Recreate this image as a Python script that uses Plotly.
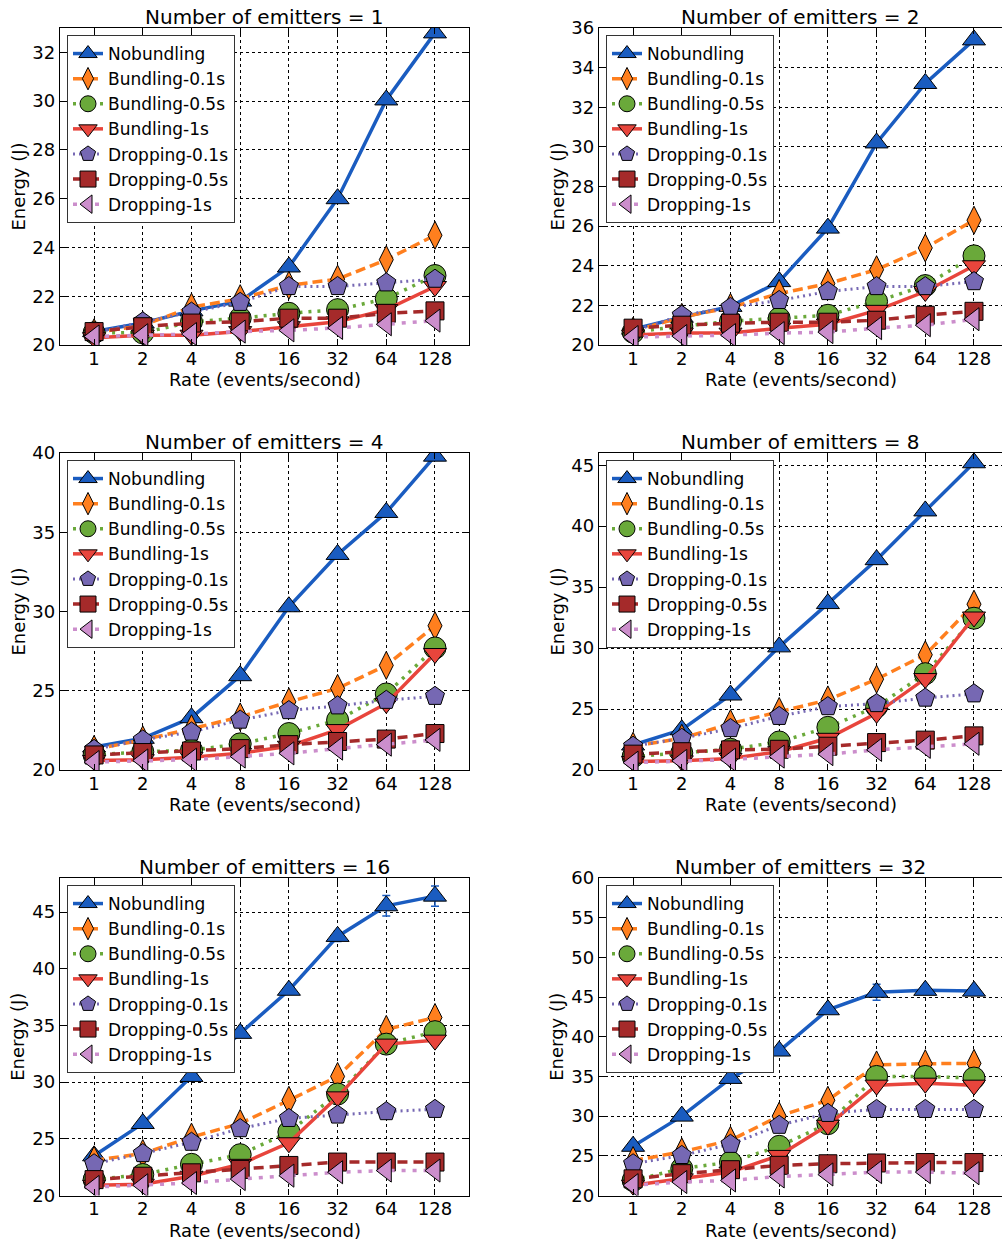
import plotly.graph_objects as go

RATES = ["1", "2", "4", "8", "16", "32", "64", "128"]
EMITTERS = [1, 2, 4, 8, 16, 32]
SERIES_NAMES = ["Nobundling", "Bundling-0.1s", "Bundling-0.5s", "Bundling-1s",
                "Dropping-0.1s", "Dropping-0.5s", "Dropping-1s"]

# values per emitter count (rows) x rate (columns)
NOBUNDLING = [
    [20.55, 20.9, 21.4, 21.8, 23.2, 26.0, 30.05, 32.8],
    [20.8, 21.4, 21.95, 23.2, 25.9, 30.2, 33.2, 35.4],
    [21.45, 22.0, 23.3, 25.95, 30.3, 33.6, 36.25, 39.8],
    [22.05, 23.3, 26.15, 30.1, 33.65, 37.25, 41.25, 45.2],
    [23.5, 26.35, 30.5, 34.3, 38.1, 42.85, 45.55, 46.4],
    [26.2, 30.0, 34.75, 38.2, 43.4, 45.6, 45.85, 45.75],
]
NOBUNDLING_ERR = [
    [None] * 8,
    [None] * 8,
    [None] * 8,
    [None] * 8,
    [None, None, None, None, 0.2, 0.45, 0.9, 0.9],
    [None, None, None, None, 0.3, 1.0, 0.5, 0.5],
]
BUNDLING_01 = [
    [20.5, 20.8, 21.55, 21.9, 22.45, 22.7, 23.5, 24.5],
    [20.7, 21.4, 21.9, 22.6, 23.1, 23.8, 24.9, 26.3],
    [21.3, 21.9, 22.6, 23.35, 24.3, 25.15, 26.6, 29.1],
    [21.95, 22.6, 23.8, 24.8, 25.75, 27.45, 29.45, 33.6],
    [23.1, 23.7, 25.15, 26.35, 28.4, 30.5, 34.65, 35.7],
    [24.4, 25.5, 26.95, 30.0, 32.0, 36.45, 36.6, 36.65],
]
BUNDLING_05 = [
    [20.5, 20.5, 20.95, 21.1, 21.3, 21.45, 21.9, 22.85],
    [20.65, 20.95, 21.2, 21.35, 21.5, 22.2, 23.0, 24.5],
    [20.95, 21.15, 21.25, 21.65, 22.3, 23.15, 24.8, 27.7],
    [21.1, 21.4, 21.7, 22.3, 23.5, 25.2, 27.9, 32.45],
    [21.4, 21.85, 22.75, 23.6, 25.6, 28.95, 33.35, 34.45],
    [21.9, 23.4, 24.2, 26.2, 29.05, 35.0, 35.0, 34.8],
]
BUNDLING_1 = [
    [20.3, 20.4, 20.4, 20.55, 20.75, 20.95, 21.45, 22.4],
    [20.5, 20.6, 20.6, 20.85, 21.05, 21.75, 22.7, 24.0],
    [20.6, 20.65, 20.8, 21.05, 21.5, 22.55, 24.2, 27.35],
    [20.7, 20.75, 20.95, 21.5, 22.6, 24.65, 27.5, 32.55],
    [20.9, 21.0, 21.7, 22.75, 24.65, 28.7, 33.35, 33.7],
    [21.3, 22.1, 22.95, 25.05, 28.85, 33.9, 34.15, 33.9],
]
DROPPING_01 = [
    [20.5, 20.95, 21.35, 21.75, 22.4, 22.4, 22.55, 22.7],
    [20.7, 21.5, 21.9, 22.25, 22.7, 22.95, 22.95, 23.2],
    [21.3, 21.9, 22.4, 23.15, 23.75, 24.05, 24.4, 24.65],
    [21.95, 22.6, 23.4, 24.4, 25.2, 25.45, 25.9, 26.25],
    [22.8, 23.7, 24.7, 25.9, 26.8, 27.1, 27.4, 27.6],
    [24.0, 25.05, 26.45, 28.85, 30.35, 30.85, 30.85, 30.85],
]
DROPPING_05 = [
    [20.55, 20.75, 20.9, 20.95, 21.1, 21.1, 21.3, 21.4],
    [20.85, 21.0, 21.1, 21.15, 21.15, 21.25, 21.5, 21.7],
    [20.95, 21.1, 21.2, 21.35, 21.6, 21.8, 21.95, 22.3],
    [21.3, 21.5, 21.65, 21.7, 21.95, 22.25, 22.45, 22.8],
    [21.4, 21.7, 22.0, 22.3, 22.65, 22.95, 22.95, 22.95],
    [22.1, 22.75, 23.25, 23.8, 24.0, 24.1, 24.15, 24.15],
]
DROPPING_1 = [
    [20.35, 20.4, 20.45, 20.55, 20.6, 20.7, 20.85, 21.0],
    [20.4, 20.45, 20.5, 20.6, 20.65, 20.85, 21.0, 21.3],
    [20.5, 20.6, 20.65, 20.85, 21.05, 21.35, 21.6, 21.9],
    [20.6, 20.75, 20.85, 21.1, 21.3, 21.65, 21.9, 22.15],
    [20.75, 20.9, 21.1, 21.45, 21.75, 22.05, 22.2, 22.2],
    [21.3, 21.7, 21.9, 22.4, 22.65, 22.95, 22.95, 22.8],
]
Y_MAX = [33, 36, 40, 46, 48, 60]
Y_DTICK = [2, 2, 5, 5, 5, 5]

ALL = [NOBUNDLING, BUNDLING_01, BUNDLING_05, BUNDLING_1, DROPPING_01, DROPPING_05, DROPPING_1]
COLORS = ["#1a5cc0", "#ff7f1e", "#6aa93a", "#e8453c", "#7668b3", "#a52a2a", "#cc8ecc"]
DASHES = ["solid", "10px,5px", "3px,6px", "solid", "2px,4px", "10px,6px", "4px,7px"]
SYMBOLS = ["triangle-up", "diamond-tall", "circle", "triangle-down", "pentagon", "square", "triangle-left"]
SIZES = [20, 20, 22, 20, 20, 18, 20]
LWIDTH = [3.5, 3.5, 3.5, 3.5, 3, 3.5, 3.5]

W, H = 1002, 1242
COLS = [(60, 469), (599, 1002)]
ROWS = [(28, 345), (453, 770), (878, 1195.5)]
UNIT = 48.7  # px per category

FONT = "DejaVu Sans"
fig = go.Figure()
annotations = []
layout = {}

for k, em in enumerate(EMITTERS):
    r, c = divmod(k, 2)
    x0, x1 = COLS[c]
    y0, y1 = ROWS[r]
    idx = k + 1
    xa = "x" if idx == 1 else f"x{idx}"
    ya = "y" if idx == 1 else f"y{idx}"
    lg = "legend" if idx == 1 else f"legend{idx}"
    xr = [-0.7, -0.7 + (x1 - x0) / UNIT]
    layout["xaxis" if idx == 1 else f"xaxis{idx}"] = dict(
        domain=[x0 / W, x1 / W], anchor=ya, type="category", range=xr,
        categoryorder="array", categoryarray=RATES,
        showgrid=True, gridcolor="black", griddash="dot", gridwidth=1,
        showline=True, linecolor="black", linewidth=1.3, mirror="ticks",
        ticks="inside", ticklen=6, tickcolor="black", ticklabelstandoff=-3,
        tickfont=dict(family=FONT, size=18, color="black"), zeroline=False,
        automargin=False,
    )
    layout["yaxis" if idx == 1 else f"yaxis{idx}"] = dict(
        domain=[1 - y1 / H, 1 - y0 / H], anchor=xa, range=[20, Y_MAX[k]],
        dtick=Y_DTICK[k], tick0=20,
        showgrid=True, gridcolor="black", griddash="dot", gridwidth=1,
        showline=True, linecolor="black", linewidth=1.3,
        mirror="ticks" if c == 0 else False,
        ticks="inside", ticklen=6, tickcolor="black",
        tickfont=dict(family=FONT, size=18, color="black"), zeroline=False,
        automargin=False,
    )
    layout[lg] = dict(
        x=(x0 + 7) / W, y=1 - (y0 + 7) / H, xanchor="left", yanchor="top",
        bgcolor="white", bordercolor="#333", borderwidth=1,
        font=dict(family=FONT, size=17, color="black"),
        tracegroupgap=0, itemsizing="trace",
    )
    for s, name in enumerate(SERIES_NAMES):
        tr = dict(
            x=RATES, y=ALL[s][k], name=name, xaxis=xa, yaxis=ya, legend=lg,
            mode="lines+markers",
            line=dict(color=COLORS[s], width=LWIDTH[s], dash=DASHES[s]),
            marker=dict(symbol=SYMBOLS[s], size=SIZES[s], color=COLORS[s],
                        line=dict(color="black", width=1)),
        )
        if s == 0:
            tr["error_y"] = dict(type="data", array=NOBUNDLING_ERR[k], color=COLORS[0],
                                 thickness=1.5, width=4)
        fig.add_trace(go.Scatter(**tr))
    xc = (x0 + min(x1, x0 + 409)) / 2
    annotations.append(dict(
        text=f"Number of emitters = {em}", x=xc / W, y=1 - (y0 + 3) / H,
        xref="paper", yref="paper", xanchor="center", yanchor="bottom",
        showarrow=False, font=dict(family=FONT, size=20, color="black")))
    annotations.append(dict(
        text="Rate (events/second)", x=xc / W, y=1 - (y1 + 22) / H,
        xref="paper", yref="paper", xanchor="center", yanchor="top",
        showarrow=False, font=dict(family=FONT, size=18, color="black")))
    annotations.append(dict(
        text="Energy (J)", x=(x0 - 42) / W, y=1 - ((y0 + y1) / 2) / H,
        xref="paper", yref="paper", xanchor="center", yanchor="middle", textangle=-90,
        showarrow=False, font=dict(family=FONT, size=18, color="black")))

fig.update_layout(
    width=W, height=H, margin=dict(l=0, r=0, t=0, b=0, pad=0, autoexpand=False),
    paper_bgcolor="white", plot_bgcolor="white",
    annotations=annotations, font=dict(family=FONT, color="black"),
    **layout,
)
fig.write_html("out.html", config={"displayModeBar": False},
               post_script="document.body.style.margin='0px';document.body.style.overflow='hidden';")
